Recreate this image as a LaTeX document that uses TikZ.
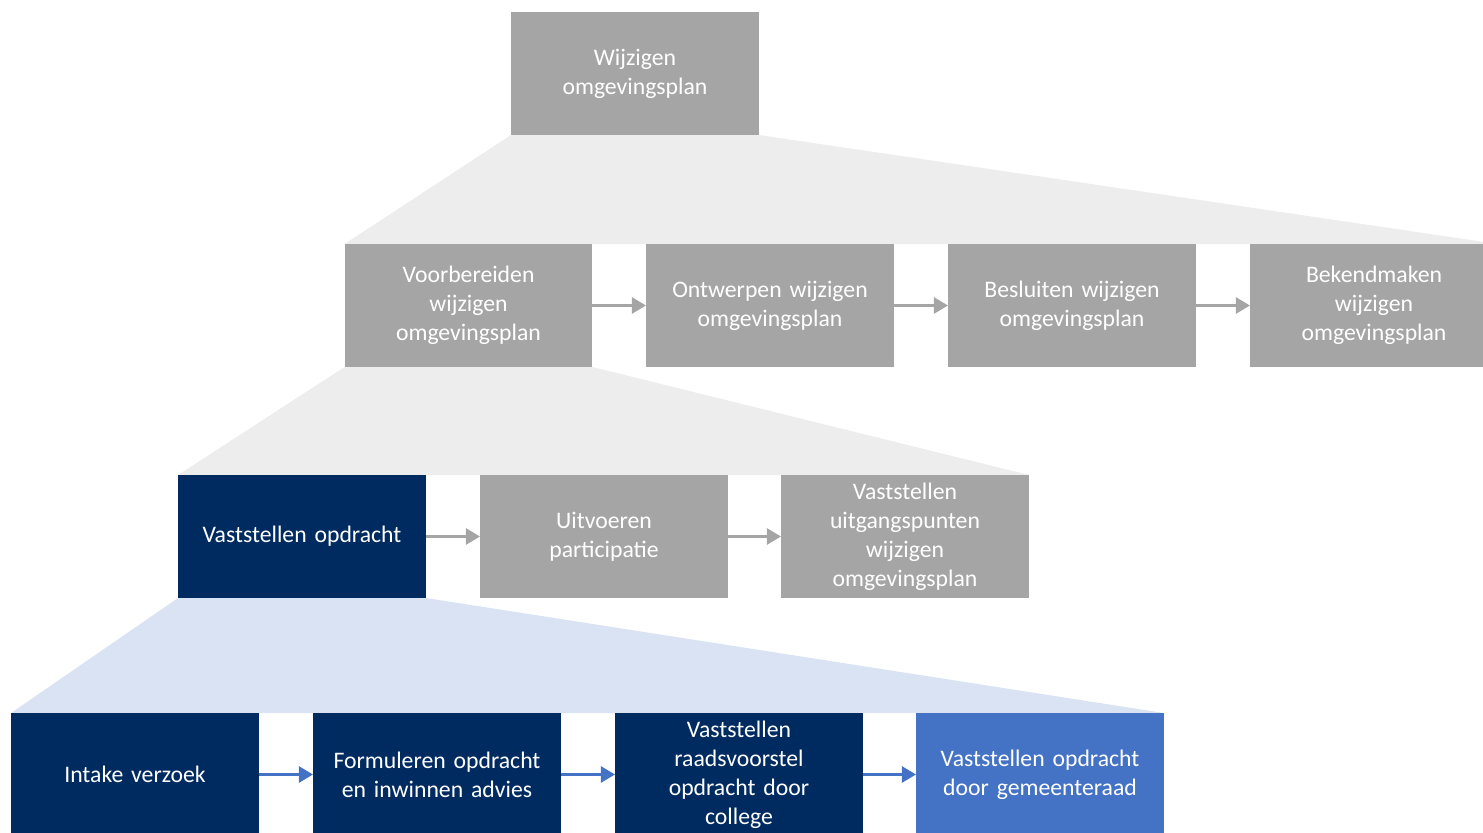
\documentclass[tikz,border=0pt]{standalone}
\usepackage{fontspec}
\setmainfont{Carlito}
\usetikzlibrary{arrows.meta,backgrounds}
\definecolor{stapgrijs}{HTML}{A5A5A5}
\definecolor{lichtgrijs}{HTML}{EDEDED}
\definecolor{donkerblauw}{HTML}{002B60}
\definecolor{middenblauw}{HTML}{4472C4}
\definecolor{lichtblauw}{HTML}{DAE3F3}
\begin{document}
\begin{tikzpicture}[x=0.02cm,y=-0.02cm,
        stap/.style={fill=stapgrijs,text=white,minimum width=4.96cm,minimum height=2.46cm,inner sep=0pt,outer sep=0pt,align=center,text width=4.6cm,font=\fontsize{13.5}{16.5}\selectfont},
        actief/.style={stap,fill=donkerblauw},
        huidig/.style={stap,fill=middenblauw},
        pijl/.style={stapgrijs,line width=1.7pt,-{Triangle[length=8pt,width=9pt]}},
        blauwpijl/.style={pijl,middenblauw}]
    \useasboundingbox (0,0) rectangle (1483,832);
    \node[stap] (W) at (635,73.5) {Wijzigen\\omgevingsplan};
    \node[stap] (V) at (468.5,305.5) {Voorbereiden\\wijzigen\\omgevingsplan};
    \node[stap] (O) at (770,305.5) {Ontwerpen wijzigen\\omgevingsplan};
    \node[stap] (B) at (1072,305.5) {Besluiten wijzigen\\omgevingsplan};
    \node[stap] (K) at (1374,305.5) {Bekendmaken\\wijzigen\\omgevingsplan};
    \node[actief] (VO) at (302,536.5) {Vaststellen opdracht};
    \node[stap] (UP) at (604,536.5) {Uitvoeren\\participatie};
    \node[stap] (VU) at (905,536.5) {Vaststellen\\uitgangspunten\\wijzigen\\omgevingsplan};
    \node[actief] (IV) at (135,774.5) {Intake verzoek};
    \node[actief] (FO) at (437,774.5) {Formuleren opdracht\\en inwinnen advies};
    \node[actief] (VR) at (739,774.5) {Vaststellen\\raadsvoorstel\\opdracht door\\college};
    \node[huidig] (VG) at (1040,774.5) {Vaststellen opdracht\\door gemeenteraad};
    \begin{scope}[on background layer]
        \fill[lichtgrijs] (W.south west)--(W.south east)--(K.north east)--(V.north west)--cycle;
        \fill[lichtgrijs] (V.south west)--(V.south east)--(VU.north east)--(VO.north west)--cycle;
        \fill[lichtblauw] (VO.south west)--(VO.south east)--(VG.north east)--(IV.north west)--cycle;
    \end{scope}
    \draw[pijl] (V)--(O);
    \draw[pijl] (O)--(B);
    \draw[pijl] (B)--(K);
    \draw[pijl] (VO)--(UP);
    \draw[pijl] (UP)--(VU);
    \draw[blauwpijl] (IV)--(FO);
    \draw[blauwpijl] (FO)--(VR);
    \draw[blauwpijl] (VR)--(VG);
\end{tikzpicture}
\end{document}
